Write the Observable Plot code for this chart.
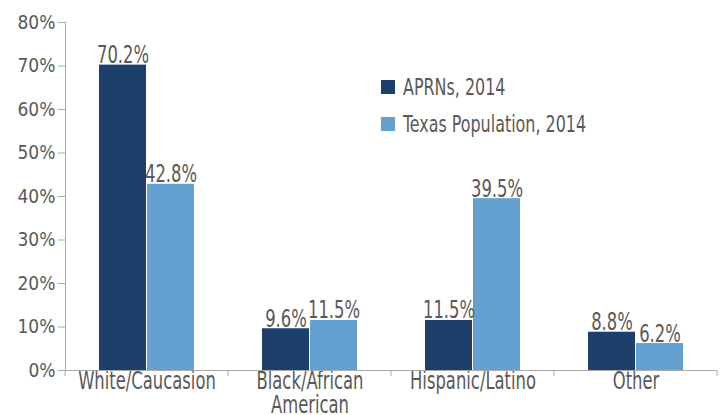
<!DOCTYPE html>
<html>
<head>
<meta charset="utf-8">
<script src="https://cdn.jsdelivr.net/npm/d3@7"></script>
<script src="https://cdn.jsdelivr.net/npm/@observablehq/plot@0.6"></script>
<style>
  html, body { margin: 0; padding: 0; background: #fff; }
  #wrap { position: relative; width: 720px; height: 415px; }
  #chart svg text { fill: #595959; }
  .legend { position: absolute; left: 381px; font-family: "DejaVu Sans Condensed", "Liberation Sans Narrow", sans-serif; font-size: 23px; color: #595959; display: flex; align-items: center; white-space: nowrap; }
  .legend span.sw { display: inline-block; width: 14px; height: 14px; margin-right: 8px; flex: none; }
  .legend span.tx { display: inline-block; transform: scaleX(0.77); transform-origin: left center; }
</style>
</head>
<body>
<div id="wrap">
  <div id="chart"></div>
</div>
<script>
const categories = ["White/Caucasion", "Black/African\nAmerican", "Hispanic/Latino", "Other"];
const seriesNames = ["APRNs, 2014", "Texas Population, 2014"];
const aprn = [70.2, 9.6, 11.5, 8.8];
const texas = [42.8, 11.5, 39.5, 6.2];
const yTicks = [0, 10, 20, 30, 40, 50, 60, 70, 80];
const colors = ["#1c3f6c", "#65a1d0"];

const data = [];
categories.forEach((c, i) => {
  data.push({category: c, series: seriesNames[0], value: aprn[i]});
  data.push({category: c, series: seriesNames[1], value: texas[i]});
});

const font = '"DejaVu Sans Condensed", "Liberation Sans Narrow", sans-serif';

const chart = Plot.plot({
  width: 720,
  height: 415,
  marginTop: 22,
  marginBottom: 45,
  marginLeft: 65,
  marginRight: 3,
  style: {fontFamily: font, fontSize: "19px", color: "#aaaaaa", background: "#fff", overflow: "visible"},
  facet: {data, x: "category"},
  fx: {domain: categories, padding: 0, label: null, tickSize: 0, tickPadding: 1, axis: "bottom"},
  x: {domain: seriesNames, axis: null, paddingInner: 0.03, paddingOuter: 0.69},
  y: {domain: [0, 80], ticks: yTicks, tickFormat: d => d + "%", label: null, tickSize: 7, tickPadding: 3, line: true},
  color: {domain: seriesNames, range: colors},
  marks: [
    Plot.barY(data, {x: "series", y: "value", fill: "series"}),
    Plot.text(data, {x: "series", y: "value", text: d => d.value.toFixed(1) + "%", lineAnchor: "bottom", dy: -2, fontSize: 24}),
    Plot.ruleY([0], {stroke: "#aaaaaa"})
  ]
});
document.getElementById("chart").appendChild(chart);

const svgEl = chart.tagName.toLowerCase() === "svg" ? chart : chart.querySelector("svg");
const svg = d3.select(svgEl);

function condense(t, s) {
  const b = t.getBBox();
  const anchor = getComputedStyle(t).textAnchor;
  const ax = anchor === "middle" ? b.x + b.width / 2 : anchor === "end" ? b.x + b.width : b.x;
  const prev = t.getAttribute("transform") || "";
  t.setAttribute("transform", `${prev} translate(${ax},0) scale(${s},1) translate(${-ax},0)`);
}

// category (fx) axis labels: larger condensed type, open line spacing
svg.selectAll("g[aria-label^='fx-axis'] text").each(function () {
  this.style.fontSize = "24px";
  const tsp = this.querySelectorAll("tspan");
  for (let k = 1; k < tsp.length; k++) tsp[k].setAttribute("dy", "1.02em");
  condense(this, 0.76);
});

// bar value labels
svg.selectAll("g[aria-label='text'] text").each(function () {
  condense(this, 0.76);
});

// boundary ticks under the category axis
const fx = chart.scale("fx");
const yS = chart.scale("y");
const y0 = yS.range[0];
const r0 = Math.min(fx.range[0], fx.range[1]);
for (let i = 0; i <= fx.domain.length; i++) {
  const xx = r0 + i * fx.step;
  svg.append("line").attr("x1", xx).attr("x2", xx).attr("y1", y0).attr("y2", y0 + 6)
    .attr("stroke", "#aaaaaa");
}

// legend
const wrap = document.getElementById("wrap");
seriesNames.forEach((s, i) => {
  const div = document.createElement("div");
  div.className = "legend";
  div.style.top = (74 + i * 37) + "px";
  div.innerHTML = `<span class="sw" style="background:${colors[i]}"></span><span class="tx">${s}</span>`;
  wrap.appendChild(div);
});
</script>
</body>
</html>
